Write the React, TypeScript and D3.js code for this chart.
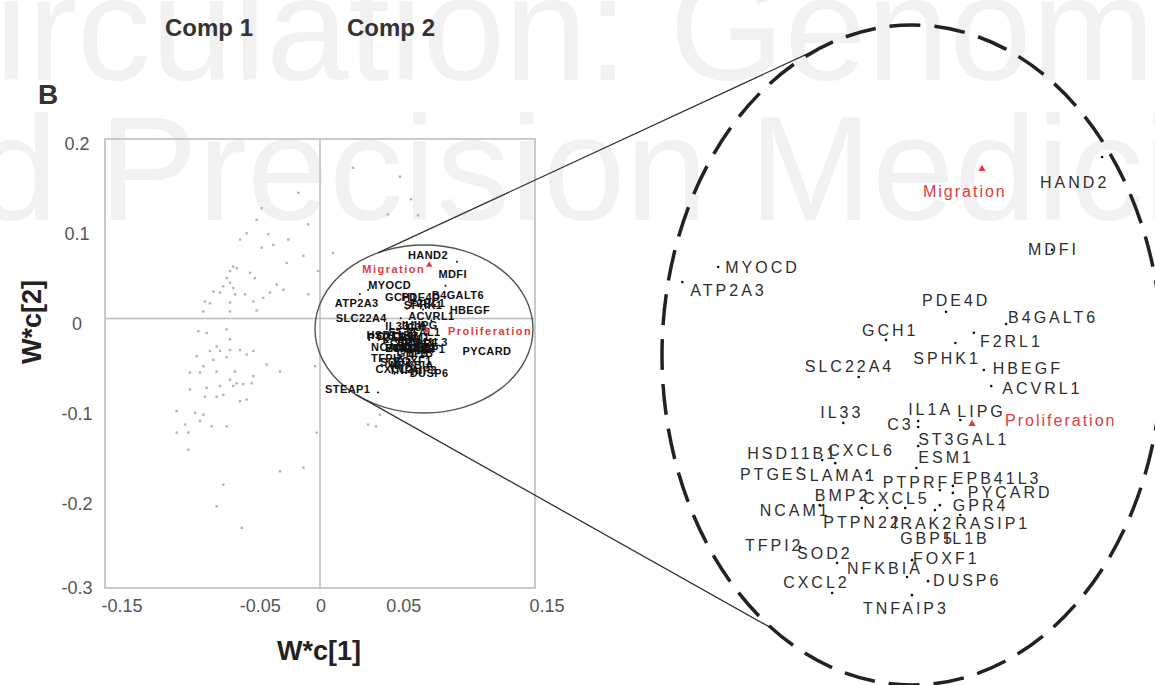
import React from "react";
import * as d3 from "d3";

// ---------- DATA ----------
const xTicks = [-0.15, -0.05, 0, 0.05, 0.15];
const yTicks = [0.2, 0.1, 0, -0.1, -0.2, -0.3];

const geneNames = [
  "HAND2", "MDFI", "MYOCD", "ATP2A3", "PDE4D", "B4GALT6", "GCH1", "F2RL1", "SPHK1", "SLC22A4",
  "HBEGF", "ACVRL1", "IL33", "C3", "IL1A", "LIPG", "ST3GAL1", "ESM1", "HSD11B1", "CXCL6",
  "PTGES", "LAMA1", "PTPRF", "EPB41L3", "PYCARD", "BMP2", "CXCL5", "GPR4", "NCAM1", "PTPN22",
  "IRAK2", "RASIP1", "GBP5", "IL1B", "TFPI2", "SOD2", "NFKBIA", "FOXF1", "DUSP6", "CXCL2",
  "TNFAIP3", "STEAP1",
];
const geneX = [
  0.0956, 0.0875, 0.0336, 0.0278, 0.0704, 0.0801, 0.0607, 0.0749, 0.0719, 0.0563,
  0.0765, 0.0777, 0.0538, 0.0659, 0.0659, 0.0727, 0.0659, 0.0656, 0.0504, 0.0525,
  0.0468, 0.0576, 0.0694, 0.0715, 0.0715, 0.0568, 0.0638, 0.0694, 0.05, 0.0609,
  0.0686, 0.0727, 0.0646, 0.0702, 0.0468, 0.0528, 0.0641, 0.0649, 0.0675, 0.052,
  0.0649, 0.0405,
];
const geneY = [
  0.0632, 0.0367, 0.0318, 0.0275, 0.019, 0.0155, 0.011, 0.013, 0.0101, 0.0004,
  0.0024, -0.0022, -0.0127, -0.0139, -0.0122, -0.0119, -0.0193, -0.0256, -0.0233, -0.0242,
  -0.0256, -0.027, -0.0319, -0.0307, -0.0327, -0.037, -0.037, -0.0362, -0.0362, -0.037,
  -0.0376, -0.039, -0.0427, -0.0427, -0.0481, -0.0527, -0.0567, -0.0519, -0.0579, -0.0613,
  -0.0619, -0.0824,
];

const targetNames = ["Migration", "Proliferation"];
const targetX = [0.0762, 0.0746];
const targetY = [0.0598, -0.013];

const bgX = [
  -0.0151, -0.0407, -0.0442, -0.0082, -0.0512, -0.0558, -0.0361, -0.0326, -0.0221, -0.0407,
  -0.0116, -0.0233, -0.0605, -0.0581, -0.0628, -0.0488, -0.0651, -0.0454, -0.0628, -0.0302,
  -0.0675, -0.0605, -0.0744, -0.0698, -0.0593, -0.0523, -0.0396, -0.0349, -0.0256, -0.0082,
  -0.0803, -0.0768, -0.0628, -0.0465, -0.0814, -0.0628, -0.0442, -0.0012, -0.0849, -0.0791,
  -0.0651, -0.0628, -0.0721, -0.0698, -0.0768, -0.0628, -0.0558, -0.0465, -0.086, -0.0744,
  -0.0651, -0.0512, -0.0372, -0.0814, -0.0907, -0.0837, -0.0721, -0.0593, -0.0465, -0.0628,
  -0.0581, -0.0535, -0.0477, -0.0279, -0.0035, -0.0907, -0.0791, -0.0698, -0.0605, -0.0721,
  -0.0675, -0.0803, -0.0558, -0.0512, -0.1, -0.0872, -0.0814, -0.0942, -0.0837, -0.0756,
  -0.0651, -0.1, -0.0919, -0.0919, -0.0023, -0.0675, -0.0279, -0.0116, -0.0721, -0.0546,
  0.0558, 0.0635, 0.0684, 0.023, 0.0091, 0.0419, 0.0335, 0.0391, 0.0474,
];
const bgY = [
  0.14, 0.123, 0.11, 0.105, 0.095, 0.088, 0.094, 0.082, 0.088, 0.079,
  0.07, 0.062, 0.058, 0.056, 0.053, 0.051, 0.045, 0.045, 0.04, 0.038,
  0.036, 0.034, 0.03, 0.029, 0.027, 0.027, 0.023, 0.029, 0.032, 0.027,
  0.019, 0.017, 0.018, 0.019, 0.008, 0.008, 0.009, 0.053, -0.014, -0.016,
  -0.012, -0.023, -0.031, -0.036, -0.036, -0.035, -0.035, -0.036, -0.042, -0.046,
  -0.043, -0.04, -0.051, -0.053, -0.06, -0.06, -0.059, -0.059, -0.064, -0.068,
  -0.072, -0.073, -0.072, -0.059, -0.053, -0.079, -0.077, -0.075, -0.075, -0.087,
  -0.085, -0.087, -0.092, -0.09, -0.103, -0.105, -0.107, -0.118, -0.114, -0.12,
  -0.12, -0.127, -0.127, -0.146, -0.127, -0.185, -0.17, -0.166, -0.209, -0.233,
  0.158, 0.133, 0.115, 0.168, 0.073, -0.107, -0.118, -0.12, 0.116,
];

// ---------- LAYOUT (label placement, px) ----------
const rightOffsets: Record<string, [number, number]> = {
  HAND2: [-62, 25], MDFI: [-24, 0], MYOCD: [7, 0], ATP2A3: [8, 8], PDE4D: [-24, -11],
  B4GALT6: [2, -7], GCH1: [-24, -9], F2RL1: [6, 9], SPHK1: [-42, 15], SLC22A4: [-54, -11],
  HBEGF: [9, -2], ACVRL1: [11, 2], IL33: [-23, -10], C3: [-31, -3], IL1A: [-10, -12],
  LIPG: [-3, -9], ST3GAL1: [0, -7], ESM1: [2, -11], HSD11B1: [-75, -7], CXCL6: [-7, -13],
  PTGES: [-60, 6], LAMA1: [-57, 2], PTPRF: [-57, -8], EPB41L3: [0, -8], PYCARD: [15, -1],
  BMP2: [-47, -13], CXCL5: [-42, -10], GPR4: [13, 0], NCAM1: [-60, 5], PTPN22: [-64, 14],
  IRAK2: [-42, 13], RASIP1: [-5, 8], GBP5: [-10, 10], IL1B: [0, 10], TFPI2: [-55, -1],
  SOD2: [-40, -10], NFKBIA: [-60, -9], FOXF1: [1, -2], DUSP6: [5, -1], CXCL2: [-49, -11],
  TNFAIP3: [-49, 13], Migration: [-59, 22], Proliferation: [33, -4],
};
const leftOffsets: Record<string, [number, number]> = {
  HAND2: [-49, -7], Migration: [-67, 4], MDFI: [-7, -11], MYOCD: [0, -5], ATP2A3: [-25, 9],
  B4GALT6: [-3, -10], GCH1: [-22, -12], HBEGF: [20, -6], SLC22A4: [-65, 0],
  Proliferation: [21, 1], PYCARD: [40, 3], DUSP6: [-7, 3], STEAP1: [-53, -3],
};

const W = 1155;
const H = 685;

export default function App() {
  const x = d3.scaleLinear().domain([-0.15, 0.15]).range([105, 535]);
  const y = d3.scaleLinear().domain([0.2, -0.3]).range([139, 588]);
  const zx = d3.scaleLinear().domain([0, 0.1]).range([510.2, 1129.3]);
  const zy = d3.scaleLinear().domain([0.1, -0.1]).range([28.2, 728.6]);

  const small = { cx: 424, cy: 329, rx: 109, ry: 84 };
  const big = { cx: 912, cy: 355, rx: 250, ry: 330 };
  const ePt = (e: typeof small, px: number, sign: number) =>
    e.cy + sign * e.ry * Math.sqrt(Math.max(0, 1 - ((px - e.cx) / e.rx) ** 2));

  const genes = geneNames.map((n, i) => ({ name: n, x: geneX[i], y: geneY[i] }));
  const zoomGenes = genes.filter((d) => rightOffsets[d.name]);
  const targets = targetNames.map((n, i) => ({ name: n, x: targetX[i], y: targetY[i] }));
  const bg = bgX.map((v, i) => ({ x: v, y: bgY[i] }));
  const tri = d3.symbol().type(d3.symbolTriangle).size(18)() as string;
  const triBig = d3.symbol().type(d3.symbolTriangle).size(22)() as string;

  const font = "'Liberation Sans', Arial, Helvetica, sans-serif";
  const red = "#e23b40";

  return (
    <svg
      width={W}
      height={H}
      style={{ position: "absolute", left: 0, top: 0, background: "#fff" }}
      fontFamily={font}
    >
      <defs>
        <clipPath id="bigClip">
          <ellipse cx={big.cx} cy={big.cy} rx={big.rx - 2} ry={big.ry - 2} />
        </clipPath>
      </defs>
      <rect width={W} height={H} fill="#fff" />
      {/* watermark */}
      <g fill="#f1f1f1" fontSize={148}>
        <text x={-112} y={80}>Circulation: Genomic</text>
        <text x={-189} y={220}>and Precision Medicine</text>
      </g>

      {/* headers */}
      <g fontWeight="bold" fill="#333" fontSize={24}>
        <text x={165} y={36}>Comp 1</text>
        <text x={347} y={36}>Comp 2</text>
        <text x={38} y={104} fontSize={28} fill="#333">B</text>
      </g>

      {/* left plot frame */}
      <rect x={x(-0.15)} y={y(0.2)} width={x(0.15) - x(-0.15)} height={y(-0.3) - y(0.2)}
        fill="none" stroke="#c9c9c9" strokeWidth={2} />
      <line x1={x(0)} x2={x(0)} y1={y(0.2)} y2={y(-0.3)} stroke="#bdbdbd" strokeWidth={1.5} />
      <line x1={x(-0.15)} x2={x(0.15)} y1={y(0)} y2={y(0)} stroke="#bdbdbd" strokeWidth={1.5} />

      {/* ticks */}
      <g fontSize={18} fill="#555">
        {yTicks.map((t) => (
          <text key={"y" + t} x={77} y={y(t) + (t === -0.3 ? 0 : 5)} dy="0.35em" textAnchor="middle">
            {String(t)}
          </text>
        ))}
        {xTicks.map((t) => (
          <text key={"x" + t} x={x(t) + (t === 0 ? 1 : t === -0.15 ? 17 : 12)} y={606} dy="0.35em" textAnchor="middle">
            {String(t)}
          </text>
        ))}
      </g>

      {/* axis titles */}
      <text x={319} y={660} textAnchor="middle" fontWeight="bold" fontSize={27} fill="#222">W*c[1]</text>
      <text transform="translate(41,322) rotate(-90)" textAnchor="middle" fontWeight="bold" fontSize={27} fill="#222">
        W*c[2]
      </text>

      {/* background variables */}
      <g fill="#b4b4b4">
        {bg.map((d, i) => (
          <rect key={i} x={x(d.x) - 1.2} y={y(d.y) - 1.2} width={2.4} height={2.4} />
        ))}
      </g>

      {/* small ellipse */}
      <ellipse cx={small.cx} cy={small.cy} rx={small.rx} ry={small.ry} fill="none" stroke="#555" strokeWidth={1.4} />

      {/* left gene dots + labels */}
      <g fill="#111">
        {genes.map((d) => (
          <circle key={d.name} cx={x(d.x)} cy={y(d.y)} r={1} />
        ))}
      </g>
      <g fontSize={11} fontWeight="bold" fill="#111" letterSpacing={0.4}>
        {genes.map((d) => {
          const o = leftOffsets[d.name];
          return o ? (
            <text key={d.name} x={x(d.x) + o[0]} y={y(d.y) + o[1]} dy="0.35em">{d.name}</text>
          ) : (
            <text key={d.name} x={x(d.x)} y={y(d.y) - 4} dy="0.35em" textAnchor="middle">{d.name}</text>
          );
        })}
      </g>
      <g>
        {targets.map((d) => {
          const o = leftOffsets[d.name];
          return (
            <g key={d.name}>
              <path d={tri} transform={`translate(${x(d.x)},${y(d.y)})`} fill={red} />
              <text x={x(d.x) + o[0]} y={y(d.y) + o[1]} dy="0.35em" fontSize={11} fontWeight="bold"
                fill={red} letterSpacing={1.5}>
                {d.name}
              </text>
            </g>
          );
        })}
      </g>

      {/* connector lines */}
      <line x1={378} y1={ePt(small, 378, -1)} x2={823} y2={ePt(big, 823, -1)} stroke="#333" strokeWidth={1.3} />
      <line x1={356} y1={ePt(small, 356, 1)} x2={772} y2={ePt(big, 772, 1)} stroke="#333" strokeWidth={1.3} />

      {/* big dashed ellipse */}
      <ellipse cx={big.cx} cy={big.cy} rx={big.rx} ry={big.ry} fill="none" stroke="#222"
        strokeWidth={3.5} strokeDasharray="31 14" />

      {/* zoomed view */}
      <g clipPath="url(#bigClip)">
        <g fill="#111">
          {zoomGenes.map((d) => (
            <circle key={d.name} cx={zx(d.x)} cy={zy(d.y)} r={1.3} />
          ))}
        </g>
        <g fontSize={16} fill="#2e2e2e" letterSpacing={3}>
          {zoomGenes.map((d) => {
            const o = rightOffsets[d.name];
            return (
              <text key={d.name} x={zx(d.x) + o[0]} y={zy(d.y) + o[1]} dy="0.35em">{d.name}</text>
            );
          })}
        </g>
        {targets.map((d) => {
          const o = rightOffsets[d.name];
          return (
            <g key={d.name}>
              <path d={triBig} transform={`translate(${zx(d.x)},${zy(d.y)})`} fill={red} />
              <text x={zx(d.x) + o[0]} y={zy(d.y) + o[1]} dy="0.35em" fontSize={16} fill={red} letterSpacing={2}>
                {d.name}
              </text>
            </g>
          );
        })}
      </g>
    </svg>
  );
}
